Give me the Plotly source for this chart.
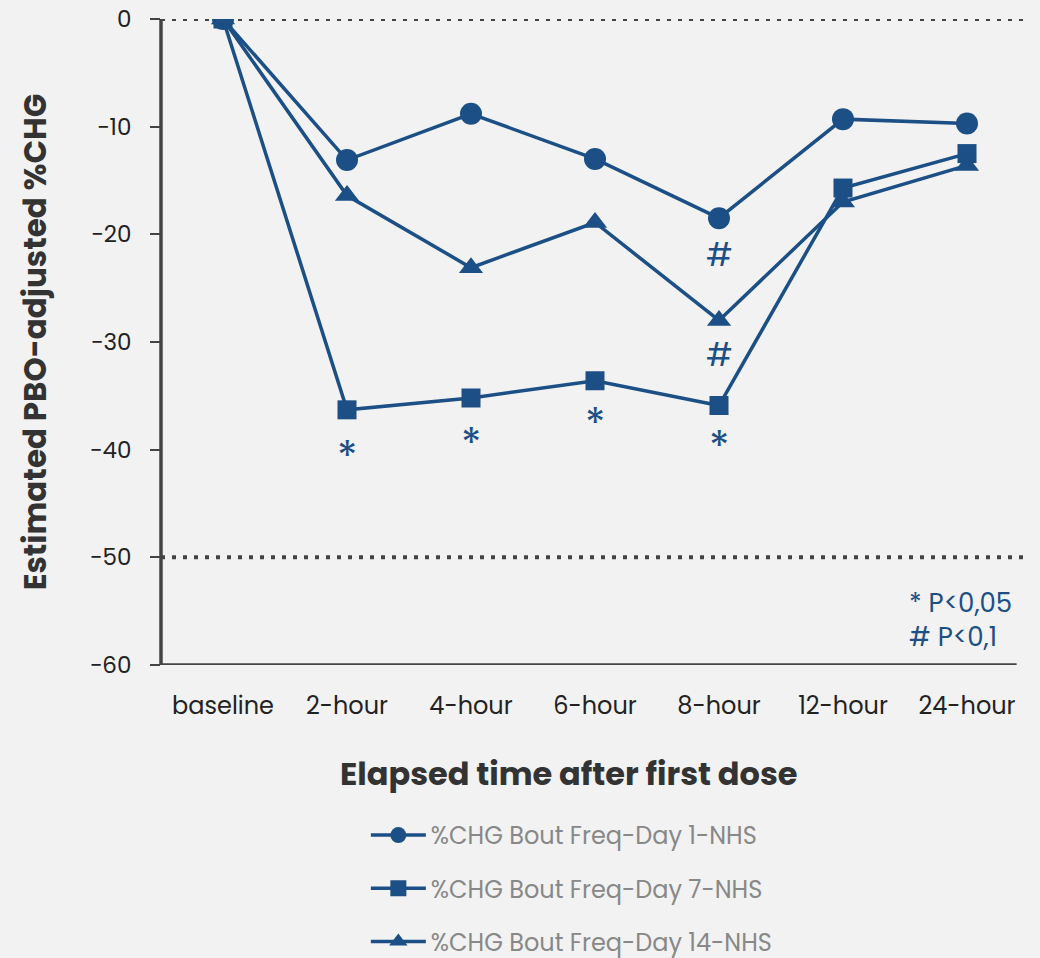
import plotly.graph_objects as go

categories = ["baseline", "2-hour", "4-hour", "6-hour", "8-hour", "12-hour", "24-hour"]
day1 = [0, -13.1, -8.8, -13.0, -18.5, -9.3, -9.7]
day7 = [0, -36.3, -35.2, -33.6, -35.9, -15.7, -12.5]
day14 = [0, -16.4, -23.1, -18.9, -28.0, -17.0, -13.6]
series_names = ["%CHG Bout Freq-Day 1-NHS", "%CHG Bout Freq-Day 7-NHS", "%CHG Bout Freq-Day 14-NHS"]
star_x = ["2-hour", "4-hour", "6-hour", "8-hour"]
star_y = [-40.7, -39.5, -37.7, -39.8]
hash_x = ["8-hour", "8-hour"]
hash_y = [-21.9, -31.2]

BLUE = "#1b4f85"
AX = "#444444"
FONT = "Poppins, 'Open Sans', sans-serif"

fig = go.Figure()
for vals, name, sym, sz in [(day1, series_names[0], "circle", 22),
                            (day7, series_names[1], "square", 19),
                            (day14, series_names[2], "triangle-up", 21)]:
    fig.add_trace(go.Scatter(
        x=categories, y=vals, mode="lines+markers", name=name, legendgroup=name,
        line=dict(color=BLUE, width=3.5),
        marker=dict(symbol=sym, size=sz, color=BLUE),
    ))

for xv, yv in zip(star_x, star_y):
    fig.add_annotation(x=xv, y=yv, text="*", showarrow=False,
                       font=dict(size=42, color=BLUE, family=FONT))
for xv, yv in zip(hash_x, hash_y):
    fig.add_annotation(x=xv, y=yv, text="#", showarrow=False,
                       font=dict(size=32, color=BLUE, family=FONT))

fig.add_annotation(xref="paper", yref="paper", x=0.983, y=0.0694, xanchor="right", yanchor="middle",
                   text="* P<0,05<br># P<0,1", showarrow=False, align="left",
                   font=dict(size=26, color=BLUE, family=FONT))

# x-axis title
fig.add_annotation(xref="paper", yref="paper", x=0.470, y=-(773 - 665) / 646, xanchor="center", yanchor="middle",
                   text="<b>Elapsed time after first dose</b>", showarrow=False,
                   font=dict(size=32, color="#333333", family=FONT))

# dotted reference lines
for yv in [0, -50]:
    fig.add_shape(type="line", xref="paper", yref="y", x0=0, x1=1, y0=yv, y1=yv,
                  line=dict(color=AX, width=4, dash="4px,7px"), layer="below")

# axis lines
fig.add_shape(type="line", xref="x", yref="y", x0=-0.5, x1=6.4, y0=-60, y1=-60,
              line=dict(color=AX, width=3.5))
fig.add_shape(type="line", xref="paper", yref="y", x0=0, x1=0, y0=-60, y1=0,
              line=dict(color=AX, width=3.5))

fig.update_layout(
    width=1040, height=958,
    paper_bgcolor="#f2f2f2", plot_bgcolor="#f2f2f2",
    margin=dict(l=161, r=11, t=19, b=293, autoexpand=False),
    font=dict(family=FONT, color="#222222"),
    showlegend=True,
    legend=dict(x=0.236, y=-0.229, xanchor="left", yanchor="top",
                font=dict(size=24, color="#888888", family=FONT),
                tracegroupgap=19, itemwidth=55, bgcolor="rgba(0,0,0,0)"),
    xaxis=dict(type="category", range=[-0.5, 6.5], showgrid=False, zeroline=False,
               showline=False, ticks="", tickfont=dict(size=24, color="#222222"),
               automargin=False, ticklabelstandoff=24),
    yaxis=dict(range=[-60, 0], dtick=10, showgrid=False, zeroline=False, showline=False,
               ticks="outside", ticklen=10, tickwidth=2, tickcolor=AX,
               tickfont=dict(size=23, color="#222222"), automargin=False, ticklabelstandoff=14,
               title=dict(text="<b>Estimated PBO-adjusted %CHG</b>", font=dict(size=31, color="#333333"), standoff=33)),
)

fig.write_html("out.html", config={"displayModeBar": False},
               post_script="document.body.style.margin='0';document.body.style.overflow='hidden';")
